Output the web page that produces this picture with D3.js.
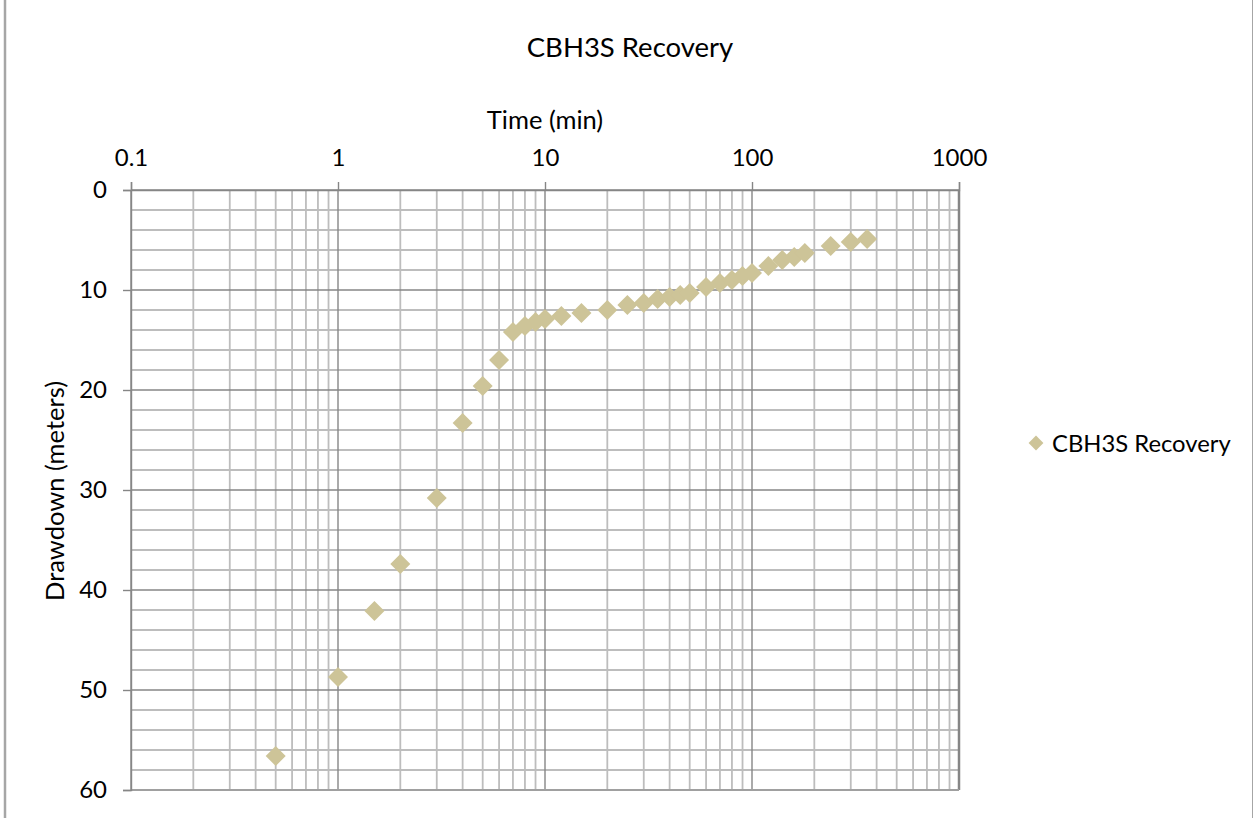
<!DOCTYPE html>
<html>
<head>
<meta charset="utf-8">
<script src="https://cdn.jsdelivr.net/npm/d3@7"></script>
<style>
  html, body { margin: 0; padding: 0; background: #fff; }
  svg { display: block; font-family: Lato, "Open Sans", sans-serif; }
</style>
</head>
<body>
<svg id="chart" width="1255" height="818"></svg>
<script>
// Recovery test: elapsed time (min) vs drawdown (m)
const timeMin = [0.5, 1, 1.5, 2, 3, 4, 5, 6, 7, 8, 9, 10, 12, 15, 20, 25, 30, 35, 40, 45, 50,
                 60, 70, 80, 90, 100, 120, 140, 160, 180, 240, 300, 360];
const drawdown = [56.6, 48.7, 42.1, 37.4, 30.8, 23.3, 19.6, 17.0, 14.2, 13.6, 13.2, 12.9, 12.6, 12.3, 12.0, 11.5, 11.3, 10.9, 10.7, 10.5, 10.3,
                  9.7, 9.3, 9.0, 8.6, 8.3, 7.6, 7.0, 6.7, 6.3, 5.6, 5.2, 4.9];
const xTicks = [0.1, 1, 10, 100, 1000];
const yTicks = [0, 10, 20, 30, 40, 50, 60];
const seriesName = "CBH3S Recovery";

const svg = d3.select("#chart");
const plot = { left: 131, right: 959, top: 190, bottom: 790 };

const x = d3.scaleLog().domain([0.1, 1000]).range([plot.left, plot.right]);
const y = d3.scaleLinear().domain([0, 60]).range([plot.top, plot.bottom]);

// chart-area frame edges
svg.append("line").attr("x1", 5).attr("x2", 5).attr("y1", 0).attr("y2", 818)
  .attr("stroke", "#a6a6a6").attr("stroke-width", 2.5);
svg.append("line").attr("x1", 1252.5).attr("x2", 1252.5).attr("y1", 0).attr("y2", 818)
  .attr("stroke", "#a6a6a6").attr("stroke-width", 1);

// minor gridlines
const minorX = [];
for (let d = 0.1; d < 1000; d *= 10) {
  for (let k = 2; k <= 9; k++) minorX.push(+(d * k).toPrecision(3));
}
const minorY = d3.range(0, 61, 2).filter(v => v % 10 !== 0);

const grid = svg.append("g");
grid.selectAll(".mx").data(minorX).join("line")
  .attr("x1", d => x(d)).attr("x2", d => x(d))
  .attr("y1", plot.top).attr("y2", plot.bottom)
  .attr("stroke", "#bdbdbd").attr("stroke-width", 1.8);
grid.selectAll(".my").data(minorY).join("line")
  .attr("x1", plot.left).attr("x2", plot.right)
  .attr("y1", d => y(d)).attr("y2", d => y(d))
  .attr("stroke", "#bdbdbd").attr("stroke-width", 1.8);

// major gridlines
grid.selectAll(".Mx").data(xTicks).join("line")
  .attr("x1", d => x(d)).attr("x2", d => x(d))
  .attr("y1", plot.top).attr("y2", plot.bottom)
  .attr("stroke", "#868686").attr("stroke-width", d => d === 1000 ? 2.5 : 1.4);
grid.selectAll(".My").data(yTicks).join("line")
  .attr("x1", plot.left).attr("x2", plot.right)
  .attr("y1", d => y(d)).attr("y2", d => y(d))
  .attr("stroke", d => d === 60 ? "#a0a0a0" : "#868686").attr("stroke-width", d => d === 60 ? 2 : 1.4);

// axes
const xAxis = d3.axisTop(x).tickValues(xTicks).tickSize(8).tickPadding(16)
  .tickFormat(d => String(d));
const gx = svg.append("g").attr("transform", `translate(0,${plot.top})`).call(xAxis);
gx.select(".domain").attr("stroke", "#868686").attr("stroke-width", 1.4);
gx.selectAll(".tick line").attr("stroke", "#868686").attr("stroke-width", 1.4);
gx.selectAll(".tick text").attr("font-size", 24).attr("fill", "#000")
  .attr("font-family", "Lato, sans-serif");

const yAxis = d3.axisLeft(y).tickValues(yTicks).tickSize(8).tickPadding(16);
const gy = svg.append("g").attr("transform", `translate(${plot.left},0)`).call(yAxis);
gy.select(".domain").attr("stroke", "#868686").attr("stroke-width", 1.4);
gy.selectAll(".tick line").attr("stroke", "#868686").attr("stroke-width", 1.4);
gy.selectAll(".tick text").attr("font-size", 24).attr("fill", "#000")
  .attr("font-family", "Lato, sans-serif");

// titles
svg.append("text").attr("x", 630).attr("y", 57).attr("text-anchor", "middle")
  .attr("font-size", 27.5).attr("fill", "#000").text(seriesName);
svg.append("text").attr("x", 545).attr("y", 129).attr("text-anchor", "middle")
  .attr("font-size", 25.5).attr("fill", "#000").text("Time (min)");
svg.append("text").attr("transform", "translate(64,491) rotate(-90)")
  .attr("text-anchor", "middle").attr("font-size", 25.5).attr("fill", "#000")
  .text("Drawdown (meters)");

// data markers
const diamond = d3.symbol().type(d3.symbolSquare).size(200);
const points = timeMin.map((t, i) => ({ t, d: drawdown[i] }));
svg.append("g").selectAll("path").data(points).join("path")
  .attr("d", diamond)
  .attr("transform", p => `translate(${x(p.t)},${y(p.d)}) rotate(45)`)
  .attr("fill", "#cdc498");

// legend
const lg = svg.append("g").attr("transform", "translate(1036,443)");
lg.append("path").attr("d", d3.symbol().type(d3.symbolSquare).size(110))
  .attr("transform", "rotate(45)").attr("fill", "#cdc498");
lg.append("text").attr("x", 16).attr("y", 8.5).attr("font-size", 23.8).attr("fill", "#000")
  .text(seriesName);
</script>
</body>
</html>
